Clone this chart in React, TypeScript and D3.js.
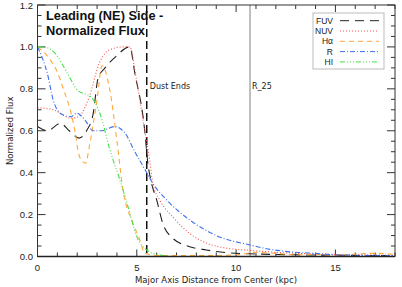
import React from 'react';
import * as d3 from 'd3';

// series as [kpc, normalized flux]
const fuv: [number, number][] = [
  [0, 0.62], [0.5, 0.6], [1.15, 0.635], [1.6, 0.6], [2.1, 0.565], [2.47, 0.6], [2.8, 0.68],
  [3.05, 0.85], [3.4, 0.9], [3.9, 0.95], [4.65, 1.0], [4.9, 0.875], [5.4, 0.6], [5.55, 0.45],
  [5.74, 0.35], [6.0, 0.27], [6.3, 0.16], [6.8, 0.088], [7.66, 0.047], [8.5, 0.031],
  [9.7, 0.017], [11, 0.012], [13, 0.008], [15, 0.006], [18, 0.004],
];
const nuv: [number, number][] = [
  [0, 0.71], [0.8, 0.7], [1.7, 0.66], [2.1, 0.67], [2.6, 0.76], [3.1, 0.92], [3.6, 0.985],
  [4.3, 1.0], [4.65, 1.0], [4.95, 0.86], [5.4, 0.6], [5.65, 0.46], [5.8, 0.35], [6.15, 0.27],
  [6.8, 0.19], [7.66, 0.11], [8.5, 0.064], [9.5, 0.04], [10.5, 0.031], [12, 0.02],
  [15, 0.01], [18, 0.006],
];
const halpha: [number, number][] = [
  [0, 1.0], [0.63, 0.94], [1.0, 0.88], [1.3, 0.8], [1.7, 0.68], [1.9, 0.59], [2.05, 0.5],
  [2.25, 0.455], [2.43, 0.445], [2.6, 0.52], [3.0, 0.75], [3.25, 0.91], [3.64, 0.795],
  [4.0, 0.55], [4.3, 0.32], [4.8, 0.16], [5.15, 0.08], [5.4, 0.016], [6, 0.005], [8, 0.004],
  [10, 0.008], [11, 0.02], [12, 0.015], [13, 0.008], [14, 0.01], [15, 0.006], [16, 0.012],
  [17, 0.015], [18, 0.01],
];
const rband: [number, number][] = [
  [0, 1.0], [0.53, 0.86], [0.78, 0.75], [1.2, 0.68], [1.7, 0.667], [1.97, 0.684], [2.4, 0.65],
  [2.8, 0.6], [3.2, 0.6], [3.9, 0.62], [4.4, 0.59], [4.9, 0.5], [5.5, 0.4], [5.8, 0.35],
  [6.5, 0.27], [7.66, 0.175], [9.0, 0.1], [10.7, 0.055], [11.6, 0.036], [13, 0.02],
  [14, 0.015], [15, 0.008], [16, 0.006], [18, 0.004],
];
const hi: [number, number][] = [
  [0, 1.0], [0.3, 1.0], [0.88, 0.97], [1.5, 0.875], [2.0, 0.795], [2.7, 0.76], [3.2, 0.667],
  [3.64, 0.51], [4.15, 0.365], [4.55, 0.24], [5.0, 0.095], [5.5, 0.031], [6.15, 0.007],
  [7, 0.0], [18, 0.0],
];

const seriesNames = ['FUV', 'NUV', 'H\u03B1', 'R', 'HI'];
const seriesData = [fuv, nuv, halpha, rband, hi];
const seriesColors = ['#222222', '#ff5050', '#ffa838', '#3f70ee', '#44e044'];
const seriesDash = ['9,6', '1,2', '5,4', '5,2,1,2', '5,2,1,2,1,2,1,2'];

const xTicks = [0, 5, 10, 15];
const yTicks = [0, 0.2, 0.4, 0.6, 0.8, 1.0, 1.2];
const dustEnds = 5.5;
const r25 = 10.7;

export default function App() {
  const W = 402;
  const H = 287;
  const left = 37.5, right = 395, top = 5, bottom = 256.5;

  const x = d3.scaleLinear().domain([0, 18]).range([left, right]);
  const y = d3.scaleLinear().domain([0, 1.2]).range([bottom, top]);

  const line = d3.line<[number, number]>()
    .x(d => x(d[0]))
    .y(d => y(d[1]))
    .curve(d3.curveMonotoneX);

  const xMinor = d3.range(0, 19, 1);
  const yMinor = d3.range(0, 1.2001, 0.05);

  const font = 'Liberation Sans, Arial, sans-serif';

  return (
    <svg width={W} height={H} style={{ position: 'absolute', left: 0, top: 0, background: '#fff' }}>
      <defs>
        <clipPath id="plot">
          <rect x={left} y={top} width={right - left} height={bottom - top} />
        </clipPath>
      </defs>

      {/* minor + major ticks, pointing inward */}
      {xMinor.map(t => {
        const major = t % 5 === 0;
        const len = major ? 7 : 4;
        return (
          <g key={'xt' + t} stroke="#333" strokeWidth={1}>
            <line x1={x(t)} x2={x(t)} y1={bottom} y2={bottom - len} />
            <line x1={x(t)} x2={x(t)} y1={top} y2={top + len} />
          </g>
        );
      })}
      {yMinor.map((t, i) => {
        const major = i % 4 === 0;
        const len = major ? 8 : 4;
        return (
          <g key={'yt' + i} stroke="#333" strokeWidth={1}>
            <line x1={left} x2={left + len} y1={y(t)} y2={y(t)} />
            <line x1={right} x2={right - len} y1={y(t)} y2={y(t)} />
          </g>
        );
      })}

      {/* reference lines */}
      <line x1={x(r25)} x2={x(r25)} y1={top} y2={bottom} stroke="#aaaaaa" strokeWidth={1.5} />
      <line x1={x(dustEnds)} x2={x(dustEnds)} y1={top} y2={bottom} stroke="#111" strokeWidth={1.5} strokeDasharray="8,4" />
      <text x={x(dustEnds) + 3} y={89} fontSize={8} fontFamily="DejaVu Sans, sans-serif" fill="#222">Dust Ends</text>
      <text x={x(r25) + 2} y={89} fontSize={8} fontFamily="DejaVu Sans, sans-serif" fill="#222">R_25</text>

      {/* series */}
      <g clipPath="url(#plot)">
        {seriesData.map((d, i) => (
          <path key={seriesNames[i]} d={line(d) || ''} fill="none" stroke={seriesColors[i]}
            strokeWidth={1.1} strokeDasharray={seriesDash[i]} />
        ))}
      </g>

      {/* frame */}
      <rect x={left} y={top} width={right - left} height={bottom - top} fill="none" stroke="#333" strokeWidth={1} />
      <line x1={left} x2={right} y1={bottom} y2={bottom} stroke="#222" strokeWidth={1.5} />

      {/* tick labels */}
      {yTicks.map(t => (
        <text key={'yl' + t} x={33} y={y(t) + 3.5} textAnchor="end" fontSize={9.5} fontFamily={font} fill="#222">
          {t.toFixed(1)}
        </text>
      ))}
      {xTicks.map(t => (
        <text key={'xl' + t} x={x(t)} y={271} textAnchor="middle" fontSize={9.5} fontFamily={font} fill="#222">
          {t}
        </text>
      ))}

      {/* axis titles */}
      <text x={216} y={283} textAnchor="middle" fontSize={8.5} fontFamily="DejaVu Sans, sans-serif" fill="#222">
        Major Axis Distance from Center (kpc)
      </text>
      <text transform={`translate(13,${(top + bottom) / 2}) rotate(-90)`} textAnchor="middle" fontSize={8.5}
        fontFamily="DejaVu Sans, sans-serif" fill="#222">
        Normalized Flux
      </text>

      {/* title */}
      <text x={46} y={20} fontSize={12.8} fontWeight="bold" fontFamily={font} fill="#111">Leading (NE) Side -</text>
      <text x={46} y={35} fontSize={12.8} fontWeight="bold" fontFamily={font} fill="#111">Normalized Flux</text>

      {/* legend */}
      <rect x={313} y={13} width={71} height={56} fill="#fff" stroke="#bbb" strokeWidth={1} />
      {seriesNames.map((n, i) => {
        const ly = 20.7 + i * 10.3;
        return (
          <g key={'lg' + n}>
            <text x={333} y={ly + 3} textAnchor="end" fontSize={8.5} fontFamily={font} fill="#222">{n}</text>
            <line x1={340} x2={379} y1={ly} y2={ly} stroke={seriesColors[i]} strokeWidth={1}
              strokeDasharray={seriesDash[i]} />
          </g>
        );
      })}
    </svg>
  );
}
